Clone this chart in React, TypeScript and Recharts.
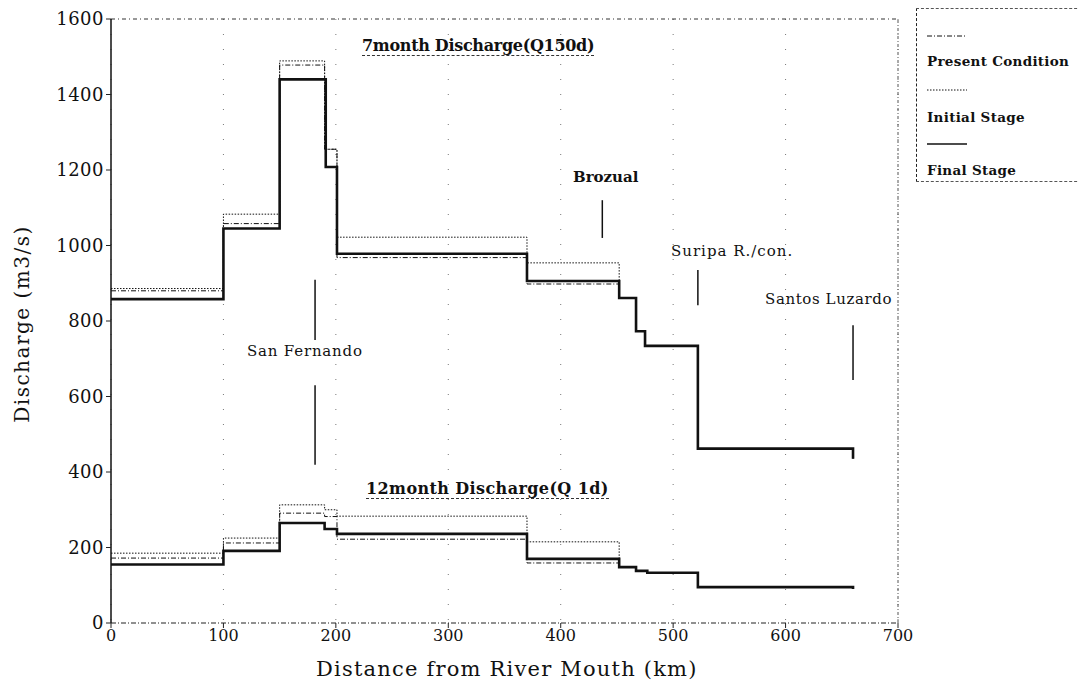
import { LineChart, Line, XAxis, YAxis, CartesianGrid, ReferenceLine } from 'recharts'

// distances (km) where each step begins, and the discharge (m3/s) from that point on
const final7X = [0, 100, 150, 191, 201, 370, 452, 467, 475, 522, 660]
const final7 = [858, 1045, 1440, 1208, 978, 906, 861, 773, 734, 462, 435]
const present7X = [0, 100, 150, 190, 201, 370, 452, 467, 475, 522, 660]
const present7 = [880, 1058, 1478, 1255, 968, 898, 861, 773, 734, 462, 435]
const initial7X = [0, 100, 150, 190, 201, 370, 452, 467, 475, 522, 660]
const initial7 = [886, 1083, 1489, 1255, 1022, 954, 861, 773, 734, 462, 435]

const final12X = [0, 100, 150, 190, 201, 370, 452, 467, 477, 522, 660]
const final12 = [155, 191, 265, 249, 236, 170, 148, 138, 133, 95, 90]
const present12X = [0, 100, 150, 190, 201, 370, 452, 467, 477, 522, 660]
const present12 = [172, 212, 291, 282, 222, 159, 148, 138, 133, 95, 90]
const initial12X = [0, 100, 150, 190, 201, 370, 452, 467, 477, 522, 660]
const initial12 = [185, 225, 313, 300, 283, 215, 148, 138, 133, 95, 90]

const xTicks = [0, 100, 200, 300, 400, 500, 600, 700]
const yTicks = [0, 200, 400, 600, 800, 1000, 1200, 1400, 1600]

// station markers: [km, from, to]
const markers: [number, number, number][] = [
  [437, 1020, 1120],
  [522, 842, 935],
  [660, 644, 789],
  [181.5, 750, 909],
  [181.5, 419, 630],
]

const toPts = (xs: number[], ys: number[]) => xs.map((x, i) => ({ x, y: ys[i] }))

// only the DejaVu serif face is available here
const SERIF = "'DejaVu Serif', serif"

const txt = (left: number, top: number, size: number, s: string, extra: React.CSSProperties = {}) => (
  <div style={{ position: 'absolute', left, top, fontSize: size, fontFamily: SERIF, color: '#111', whiteSpace: 'nowrap', lineHeight: 1, ...extra }}>{s}</div>
)

function Sample({ dash, w }: { dash?: string; w: number }) {
  return (
    <svg width={44} height={6} style={{ position: 'absolute', left: 0, top: 0 }}>
      <line x1={0} y1={3} x2={40} y2={3} stroke="#111" strokeWidth={w} strokeDasharray={dash} />
    </svg>
  )
}

export default function App() {
  const series = [
    { pts: toPts(present7X, present7), dash: '5 2 1 2', w: 1 },
    { pts: toPts(initial7X, initial7), dash: '1.5 1.5', w: 1 },
    { pts: toPts(present12X, present12), dash: '5 2 1 2', w: 1 },
    { pts: toPts(initial12X, initial12), dash: '1.5 1.5', w: 1 },
    { pts: toPts(final7X, final7), dash: undefined, w: 2.6 },
    { pts: toPts(final12X, final12), dash: undefined, w: 2.6 },
  ]
  const under = { borderBottom: '1px dashed #333', paddingBottom: 1, fontWeight: 'bold' as const }
  const leg = { fontWeight: 'bold' as const, letterSpacing: 0.3 }
  return (
    <div style={{ position: 'relative', width: 1079, height: 692, background: '#fff', overflow: 'hidden' }}>
      <style>{`body{margin:0}`}</style>
      <LineChart width={1079} height={692} margin={{ top: 19, right: 181, bottom: 39, left: 51 }}>
        <CartesianGrid stroke="#777" strokeDasharray="1 14" vertical horizontal={false} />
        <XAxis type="number" dataKey="x" domain={[0, 700]} ticks={xTicks} height={30} allowDataOverflow
          axisLine={{ stroke: '#222', strokeDasharray: '5 2 1 2' }} tickLine={{ stroke: '#222' }} tickSize={5}
          tick={{ fontSize: 16, fill: '#111', fontFamily: SERIF }} />
        <YAxis type="number" dataKey="y" domain={[0, 1600]} ticks={yTicks} width={60}
          axisLine={{ stroke: '#111', strokeWidth: 1.5 }} tickLine={{ stroke: '#222' }} tickSize={5}
          tick={{ fontSize: 18, fill: '#111', fontFamily: SERIF, letterSpacing: 0.5 }} />
        <ReferenceLine y={1600} stroke="#333" strokeDasharray="4 3 1 3" />
        <ReferenceLine x={700} stroke="#555" strokeDasharray="3 2 1 2" />
        {markers.map(([k, a, b], i) => (
          <ReferenceLine key={i} segment={[{ x: k, y: a }, { x: k, y: b }]} stroke="#111" strokeWidth={1.5} />
        ))}
        {series.map((s, i) => (
          <Line key={i} data={s.pts} dataKey="y" type="stepAfter" stroke="#111" strokeWidth={s.w}
            strokeDasharray={s.dash} dot={false} isAnimationActive={false} />
        ))}
      </LineChart>

      {txt(362, 38, 16, '7month Discharge(Q150d)', { ...under, letterSpacing: -0.3 })}
      {txt(366, 481, 16, '12month Discharge(Q 1d)', { ...under, letterSpacing: 0.4 })}
      {txt(573, 170, 15, 'Brozual', { fontWeight: 'bold' })}
      {txt(671, 244, 15, 'Suripa R./con.', { letterSpacing: 1 })}
      {txt(765, 292, 15, 'Santos Luzardo', { letterSpacing: 0.6 })}
      {txt(247, 344, 15, 'San Fernando', { letterSpacing: 0.8 })}
      {txt(316, 659, 21, 'Distance from River Mouth (km)', { letterSpacing: 1.2 })}
      <div style={{ position: 'absolute', left: 22, top: 324, transform: 'translate(-50%,-50%) rotate(-90deg)', fontSize: 20, fontFamily: SERIF, color: '#111', whiteSpace: 'nowrap', lineHeight: 1, letterSpacing: 1.5 }}>Discharge (m3/s)</div>

      <div style={{ position: 'absolute', left: 916, top: 8, width: 170, height: 172, borderLeft: '1.5px dashed #222', borderTop: '1px dashed #555', borderBottom: '1px dashed #555' }}>
        <div style={{ position: 'absolute', left: 10, top: 24 }}><Sample dash="5 2 1 2" w={1} /></div>
        {txt(10, 46, 13.5, 'Present Condition', leg)}
        <div style={{ position: 'absolute', left: 10, top: 78 }}><Sample dash="1.5 1.5" w={1} /></div>
        {txt(10, 102, 13.5, 'Initial Stage', leg)}
        <div style={{ position: 'absolute', left: 10, top: 132 }}><Sample w={1.5} /></div>
        {txt(10, 155, 13.5, 'Final Stage', leg)}
      </div>
    </div>
  )
}
